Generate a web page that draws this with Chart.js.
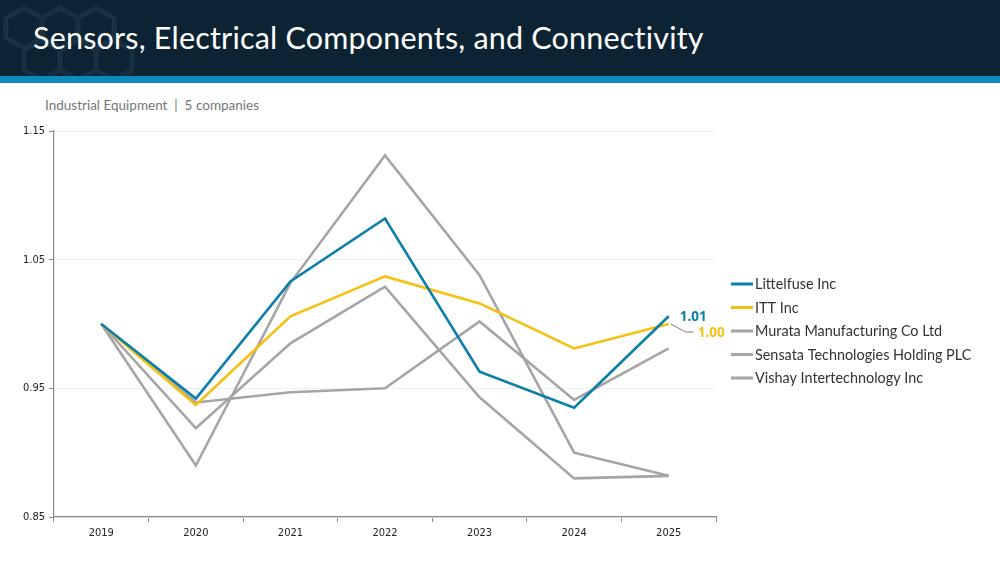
<!DOCTYPE html>
<html>
<head>
<meta charset="utf-8">
<script src="https://cdn.jsdelivr.net/npm/chart.js@4.4.1/dist/chart.umd.min.js"></script>
<style>
  html, body { margin: 0; padding: 0; width: 1000px; height: 562px; overflow: hidden; background: #ffffff; }
  #header { position: absolute; left: 0; top: 0; width: 1000px; height: 76px; background: #0c2334; overflow: hidden; }
  #stripe { position: absolute; left: 0; top: 76px; width: 1000px; height: 7px; background: #0f88bf; }
  #title { position: absolute; left: 33px; top: 19px; color: #ffffff; font-family: Lato, "Open Sans", sans-serif; font-size: 30.5px; white-space: nowrap; letter-spacing: 0.2px; }
  #subtitle { position: absolute; left: 45px; top: 97px; color: #767676; font-family: Lato, "Open Sans", sans-serif; font-size: 13.5px; white-space: nowrap; }
  #wrap { position: absolute; left: 0; top: 83px; width: 1000px; height: 479px; }
  #deco { position: absolute; left: 0; top: 0; }
</style>
</head>
<body>
<div id="header">
  <svg id="deco" width="140" height="76" viewBox="0 0 140 76">
    <g fill="none" stroke="#1a3547" stroke-width="5" opacity="0.8">
      <polygon points="24,8 42,18 42,38 24,48 6,38 6,18"/>
      <polygon points="60,8 78,18 78,38 60,48 42,38 42,18"/>
      <polygon points="96,8 114,18 114,38 96,48 78,38 78,18"/>
      <polygon points="42,40 60,50 60,70 42,80 24,70 24,50"/>
      <polygon points="78,40 96,50 96,70 78,80 60,70 60,50"/>
      <polygon points="114,40 132,50 132,70 114,80 96,70 96,50"/>
    </g>
  </svg>
  <div id="title">Sensors, Electrical Components, and Connectivity</div>
</div>
<div id="stripe"></div>
<div id="subtitle">Industrial Equipment&nbsp;&nbsp;|&nbsp;&nbsp;5 companies</div>
<div id="wrap"><canvas id="c" width="1000" height="479"></canvas></div>
<script>
const years = ['2019', '2020', '2021', '2022', '2023', '2024', '2025'];
const littelfuse = [1.000, 0.942, 1.033, 1.082, 0.963, 0.935, 1.006];
const itt        = [1.000, 0.937, 1.006, 1.037, 1.016, 0.981, 1.000];
const murata     = [1.000, 0.939, 0.947, 0.950, 1.002, 0.941, 0.981];
const sensata    = [1.000, 0.919, 0.985, 1.029, 0.943, 0.880, 0.882];
const vishay     = [1.000, 0.890, 1.032, 1.131, 1.038, 0.900, 0.882];
const seriesNames = ['Littelfuse Inc', 'ITT Inc', 'Murata Manufacturing Co Ltd', 'Sensata Technologies Holding PLC', 'Vishay Intertechnology Inc'];
const yTicks = [0.85, 0.95, 1.05, 1.15];

const BLUE = '#0b7fa9', GOLD = '#f5c012', GRAY = '#a5a5a5';
const colors = [BLUE, GOLD, GRAY, GRAY, GRAY];
const series = [littelfuse, itt, murata, sensata, vishay];

const datasets = series.map((d, i) => ({
  label: seriesNames[i],
  data: d,
  borderColor: colors[i],
  backgroundColor: colors[i],
  borderWidth: 2.6,
  pointRadius: 0,
  tension: 0,
  fill: false
}));

const legendPlugin = {
  id: 'customLegend',
  afterDraw(chart) {
    const ctx = chart.ctx;
    ctx.save();
    ctx.font = '14.4px Lato, "Open Sans", sans-serif';
    ctx.textBaseline = 'middle';
    ctx.textAlign = 'left';
    chart.data.datasets.forEach((ds, i) => {
      const y = 284 - 83 + i * 23.5;
      ctx.strokeStyle = ds.borderColor;
      ctx.lineWidth = 3;
      ctx.beginPath();
      ctx.moveTo(731, y);
      ctx.lineTo(753, y);
      ctx.stroke();
      ctx.fillStyle = '#333333';
      ctx.fillText(ds.label, 755, y + 0.5);
    });
    ctx.restore();
  }
};

const endLabelPlugin = {
  id: 'endLabels',
  afterDatasetsDraw(chart) {
    const ctx = chart.ctx;
    const xs = chart.scales.x, ys = chart.scales.y;
    const last = years.length - 1;
    ctx.save();
    ctx.font = 'bold 13.5px "Open Sans", Lato, sans-serif';
    ctx.textBaseline = 'middle';
    ctx.textAlign = 'left';
    const bx = xs.getPixelForValue(last), by = ys.getPixelForValue(littelfuse[last]);
    ctx.fillStyle = BLUE;
    ctx.fillText(littelfuse[last].toFixed(2), bx + 11, by + 1);
    const gx = xs.getPixelForValue(last), gy = ys.getPixelForValue(itt[last]);
    ctx.strokeStyle = '#7a7a7a';
    ctx.lineWidth = 1;
    ctx.beginPath();
    ctx.moveTo(gx + 2, gy);
    ctx.lineTo(gx + 17, gy + 8);
    ctx.lineTo(gx + 25, gy + 8);
    ctx.stroke();
    ctx.fillStyle = GOLD;
    ctx.fillText(itt[last].toFixed(2), gx + 29, gy + 9);
    ctx.restore();
  }
};

new Chart(document.getElementById('c'), {
  type: 'line',
  data: { labels: years, datasets: datasets },
  options: {
    responsive: false,
    animation: false,
    events: [],
    layout: { padding: { left: 0, top: 48, right: 284, bottom: 0 } },
    plugins: { legend: { display: false }, tooltip: { enabled: false } },
    scales: {
      x: {
        offset: true,
        grid: { offset: true, drawOnChartArea: false, tickLength: 5, tickColor: '#8a8a8a', lineWidth: 1 },
        border: { color: '#8a8a8a', width: 1.2 },
        ticks: { color: '#222222', font: { family: '"DejaVu Sans Condensed", "DejaVu Sans", sans-serif', size: 11 }, padding: 5, maxRotation: 0 },
        afterFit(s) { s.height = 45; }
      },
      y: {
        min: 0.85, max: 1.15,
        afterBuildTicks(s) { s.ticks = yTicks.map(v => ({ value: v })); },
        grid: { color: '#f1f1f1', tickColor: '#8a8a8a', tickLength: 5, lineWidth: 1 },
        border: { color: '#8a8a8a', width: 1.2 },
        ticks: { color: '#222222', font: { family: '"DejaVu Sans Condensed", "DejaVu Sans", sans-serif', size: 11 }, padding: 4, callback: v => Number(v).toFixed(2) },
        afterFit(s) { s.width = 54; }
      }
    }
  },
  plugins: [legendPlugin, endLabelPlugin]
});
</script>
</body>
</html>
